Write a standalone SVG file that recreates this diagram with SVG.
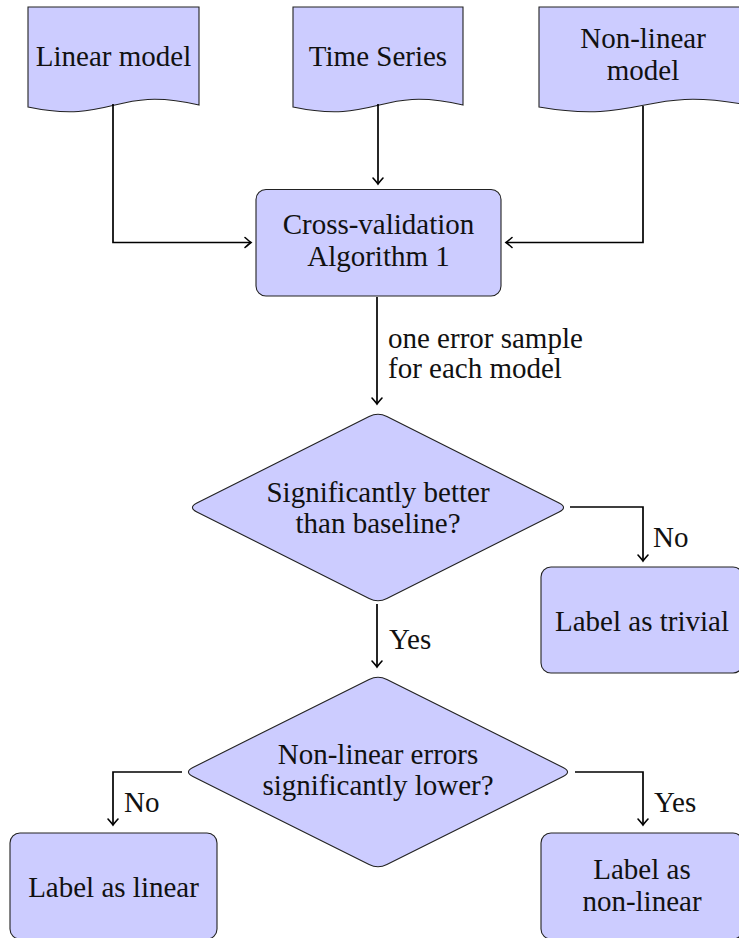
<svg xmlns="http://www.w3.org/2000/svg" width="739" height="938" viewBox="0 0 739 938">
  <style>
    .shape { fill: #ccccff; stroke: #222222; stroke-width: 1.1; }
    .txt { font-family: 'Liberation Serif', 'Times New Roman', serif; font-size: 29px; fill: #111111; }
    .mid { text-anchor: middle; }
    .conn { fill: none; stroke: #000000; stroke-width: 1.7; marker-end: url(#arrow); }
  </style>
  <defs>
    <marker id="arrow" viewBox="-8 -7 10 14" markerWidth="10" markerHeight="14" refX="0" refY="0" orient="auto" markerUnits="userSpaceOnUse" overflow="visible">
      <path d="M -6,-5 Q -1.5,-1 0,0 Q -1.5,1 -6,5" fill="none" stroke="#000000" stroke-width="1.6" stroke-linecap="round"/>
    </marker>
  </defs>
  <rect width="739" height="938" fill="#ffffff"/>

  <g id="doc-linear">
    <path class="shape" d="M 28,7 H 199 V 105 C 113.5,85 113.5,125 28,107 Z"/>
    <text class="txt mid" x="113.5" y="66">Linear model</text>
  </g>
  <g id="doc-timeseries">
    <path class="shape" d="M 293,7 H 463 V 105 C 378,85 378,125 293,107 Z"/>
    <text class="txt mid" x="378" y="66">Time Series</text>
  </g>
  <g id="doc-nonlinear">
    <path class="shape" d="M 539,7 H 747 V 105 C 643,85 643,125 539,107 Z"/>
    <text class="txt mid" x="643" y="48">Non-linear</text>
    <text class="txt mid" x="643" y="80">model</text>
  </g>

  <g id="crossval">
    <rect class="shape" x="256" y="189.5" width="245" height="106.5" rx="10" ry="10"/>
    <text class="txt mid" x="378.5" y="234">Cross-validation</text>
    <text class="txt mid" x="378.5" y="266">Algorithm 1</text>
  </g>

  <g id="decision-baseline">
    <path class="shape" d="M 369.1,416.5 Q 378,412 386.9,416.5 L 559.1,503 Q 568,507.5 559.1,512 L 386.9,598.5 Q 378,603 369.1,598.5 L 196.9,512 Q 188,507.5 196.9,503 Z"/>
    <text class="txt mid" x="378" y="502">Significantly better</text>
    <text class="txt mid" x="378" y="533">than baseline?</text>
  </g>

  <g id="label-trivial">
    <rect class="shape" x="541" y="567" width="202" height="106" rx="10" ry="10"/>
    <text class="txt mid" x="642" y="631">Label as trivial</text>
  </g>

  <g id="decision-nonlinear">
    <path class="shape" d="M 369.1,679.5 Q 378,675 386.9,679.5 L 563.1,767.5 Q 572,772 563.1,776.5 L 386.9,864.5 Q 378,869 369.1,864.5 L 192.9,776.5 Q 184,772 192.9,767.5 Z"/>
    <text class="txt mid" x="378" y="764">Non-linear errors</text>
    <text class="txt mid" x="378" y="795">significantly lower?</text>
  </g>

  <g id="label-linear">
    <rect class="shape" x="10" y="833" width="207" height="106" rx="10" ry="10"/>
    <text class="txt mid" x="113.5" y="897">Label as linear</text>
  </g>

  <g id="label-nonlinear">
    <rect class="shape" x="541" y="833" width="202" height="106" rx="10" ry="10"/>
    <text class="txt mid" x="642" y="879">Label as</text>
    <text class="txt mid" x="642" y="911">non-linear</text>
  </g>

  <g id="connectors">
    <path class="conn" d="M 113,104 V 242.5 H 251"/>
    <path class="conn" d="M 378,104 V 184"/>
    <path class="conn" d="M 643,106 V 242.5 H 506"/>
    <path class="conn" d="M 377,297 V 404"/>
    <path class="conn" d="M 570,507 H 643 V 561"/>
    <path class="conn" d="M 377,604 V 667"/>
    <path class="conn" d="M 182,772 H 113 V 825"/>
    <path class="conn" d="M 575,772 H 643 V 825"/>
    <text class="txt" x="388" y="348">one error sample</text>
    <text class="txt" x="388" y="378">for each model</text>
    <text class="txt" x="653" y="547">No</text>
    <text class="txt" x="389" y="649">Yes</text>
    <text class="txt" x="124" y="812">No</text>
    <text class="txt" x="654" y="812">Yes</text>
  </g>
</svg>
